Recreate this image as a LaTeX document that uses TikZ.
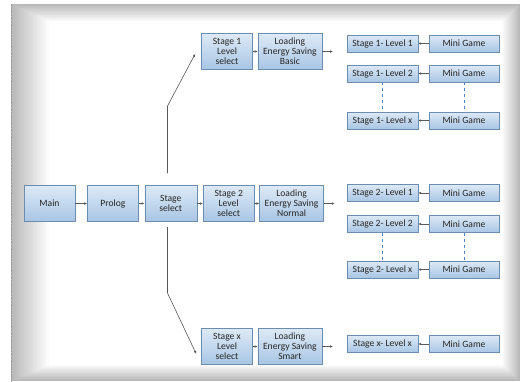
\documentclass[tikz,border=0pt]{standalone}
\usepackage{fontspec}
\setmainfont{Carlito}
\usetikzlibrary{arrows.meta,calc,positioning}
\tikzset{>=Latex}
\definecolor{boxtop}{HTML}{DDE9F6}
\definecolor{boxbot}{HTML}{A8C6E4}
\definecolor{boxline}{HTML}{6C8DB0}
\definecolor{textgray}{HTML}{262626}
\definecolor{dashblue}{HTML}{4A86C8}
\tikzset{
  box/.style={draw=boxline, top color=boxtop, bottom color=boxbot, text=textgray, align=center, inner sep=1pt, font=\fontsize{9.6}{10}\selectfont},
  bigbox/.style={box, minimum width=51pt, minimum height=36pt},
  loadbox/.style={box, minimum width=64pt, minimum height=36pt},
  lvbox/.style={box, minimum width=71pt, minimum height=17pt},
  mgbox/.style={box, minimum width=70pt, minimum height=17pt},
  arrow/.style={-{Latex[length=3pt,width=2.6pt]}, draw=black!65, line width=0.6pt},
  dashedline/.style={draw=dashblue, dashed, line width=0.6pt},
}

\begin{document}
\begin{tikzpicture}[x=1pt, y=-1pt]
\useasboundingbox (0,0) rectangle (520,381);
% --- frame with soft shadow ---
\fill[white] (0,0) rectangle (520,381);
\foreach \i in {0,...,29}{
  \pgfmathsetmacro\g{28-0.95*\i}
  \fill[black!\g] (11+1.3*\i, 4+0.6*\i) rectangle (520-0.6*\i, 381-0.55*\i);
}
\fill[white] (50,22) rectangle (502,365);
\draw[black!40, densely dotted] (11,4) -- (11,381);

% --- main chain ---
\node[bigbox] (main) at (49.5,203.5) {Main};
\node[bigbox, right=12pt of main] (prolog) {Prolog};
\node[bigbox, minimum width=52pt, right=6pt of prolog] (ssel) {Stage\\select};
\node[bigbox, right=6pt of ssel] (s2sel) {Stage 2\\Level\\select};
\node[loadbox, right=5pt of s2sel] (load2) {Loading\\Energy Saving\\Normal};

\draw[arrow] (main) -- (prolog);
\draw[arrow] (prolog) -- (ssel);
\draw[arrow] (ssel) -- (s2sel);
\draw[arrow] (s2sel) -- (load2);

% --- stage 1 and stage x ---
\node[bigbox] (s1sel) at (227,51.5) {Stage 1\\Level\\select};
\node[loadbox, right=5pt of s1sel] (load1) {Loading\\Energy Saving\\Basic};
\node[bigbox] (s3sel) at (227,346.5) {Stage x\\Level\\select};
\node[loadbox, right=5pt of s3sel] (load3) {Loading\\Energy Saving\\Smart};

\draw[arrow] (s1sel) -- (load1);
\draw[arrow] (s3sel) -- (load3);

% branches out of stage select
\coordinate (upA) at (167.5,173);
\coordinate (upB) at (167.5,106);
\coordinate (dnA) at (167.5,227);
\coordinate (dnB) at (167.5,293);
\draw[arrow, shorten >=13pt] (upA) -- (upB) -- ($(s1sel.north west)!0.5!(s1sel.west)$);
\draw[arrow, shorten >=12pt] (dnA) -- (dnB) -- (s3sel.south west);

% loading arrows (open ends)
\foreach \k in {1,2,3}{
  \coordinate (o\k) at ($(load\k.east)+(11pt,0)$);
  \draw[arrow] (load\k) -- (o\k);
}

% --- levels and mini games ---
\foreach \n/\t/\y in {a1/{Stage 1- Level 1}/43.5, a2/{Stage 1- Level 2}/73.5, ax/{Stage 1- Level x}/120.5,
                      b1/{Stage 2- Level 1}/193, b2/{Stage 2- Level 2}/224, bx/{Stage 2- Level x}/269.5,
                      cx/{Stage x- Level x}/344}{
  \node[lvbox] (l\n) at (382.5,\y) {\t};
  \node[mgbox] (m\n) at (464,\y) {Mini Game};
  \draw[arrow] (m\n) -- (l\n);
}

\draw[dashedline] (la2) -- (lax);
\draw[dashedline] (ma2) -- (max);
\draw[dashedline] (lb2) -- (lbx);
\draw[dashedline] (mb2) -- (mbx);

\end{tikzpicture}
\end{document}
